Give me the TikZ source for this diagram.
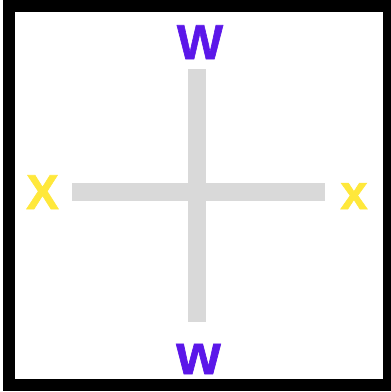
\documentclass[tikz,border=0pt]{standalone}
\usepackage{fontspec}
\newfontfamily\labelfont{Liberation Sans Bold}[FakeBold=1.2]
\definecolor{wpurple}{HTML}{5B17E9}
\definecolor{xyellow}{HTML}{FFE83B}
\definecolor{bargray}{HTML}{D9D9D9}
\tikzset{
  bar/.style={draw=bargray, line width=18pt, line cap=butt},
  wlabel/.style={text=wpurple, inner sep=0pt, anchor=base, font=\labelfont\fontsize{49}{49}\selectfont},
  xlabel/.style={text=xyellow, inner sep=0pt, anchor=base, font=\labelfont\fontsize{49}{49}\selectfont},
  frame/.style={draw=black, line width=12pt}
}
\begin{document}
\begin{tikzpicture}[x=1pt,y=-1pt]
\useasboundingbox (0,0) rectangle (391,392);
\fill[white] (0,0) rectangle (391,392);
\begin{scope}
\clip (0,0) rectangle (391,392);
\draw[frame] (9,6) rectangle (388.5,385);
\end{scope}
\coordinate (vtop) at (197.2,69);
\coordinate (vbot) at (197.2,322);
\coordinate (hleft) at (72,192);
\coordinate (hright) at (325,192);
\draw[bar] (vtop) -- (vbot);
\draw[bar] (hleft) -- (hright);
\node[wlabel] (Wtop) at (200,59) {W};
\node[wlabel, font=\labelfont\fontsize{57}{57}\selectfont] (wbot) at (198.5,374) {w};
\node[xlabel] (Xleft) at (42.5,209) {X};
\node[xlabel] (xright) at (354,209) {x};
\end{tikzpicture}
\end{document}
